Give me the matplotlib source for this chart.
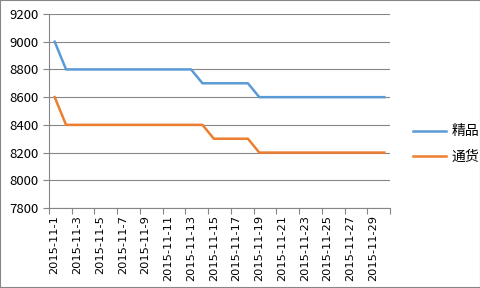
import matplotlib.pyplot as plt
import numpy as np

plt.rcParams['font.family'] = ['Noto Sans CJK SC', 'DejaVu Sans']

# daily prices, November 2015
dates = [f"2015-11-{d}" for d in range(1, 31)]
jingpin = [9000, 8800, 8800, 8800, 8800, 8800, 8800, 8800, 8800, 8800,
           8800, 8800, 8800, 8700, 8700, 8700, 8700, 8700, 8600, 8600,
           8600, 8600, 8600, 8600, 8600, 8600, 8600, 8600, 8600, 8600]
tonghuo = [8600, 8400, 8400, 8400, 8400, 8400, 8400, 8400, 8400, 8400,
           8400, 8400, 8400, 8400, 8300, 8300, 8300, 8300, 8200, 8200,
           8200, 8200, 8200, 8200, 8200, 8200, 8200, 8200, 8200, 8200]
series_names = ["精品", "通货"]

x = np.arange(len(dates))

fig = plt.figure(figsize=(4.81, 2.88), dpi=100)
ax = fig.add_axes([49 / 481, 1 - 208 / 288, (390 - 49) / 481, (208 - 14) / 288])

ax.plot(x, jingpin, color="#5B9BD5", linewidth=1.8, label=series_names[0])
ax.plot(x, tonghuo, color="#ED7D31", linewidth=1.8, label=series_names[1])

ax.set_xlim(-0.5, len(dates) - 0.5)
ax.set_ylim(7800, 9200)
ax.set_yticks(np.arange(7800, 9201, 200))
ax.grid(axis="y", color="#868686", linewidth=0.8)
ax.set_axisbelow(True)

# category axis: tick marks between categories, labels every 2nd day
ax.set_xticks(np.arange(-0.5, len(dates), 2))
ax.set_xticklabels([])
ax.set_xticks(x[::2], minor=True)
ax.set_xticklabels(dates[::2], minor=True, rotation=90, fontsize=8.2,
                   family=['DejaVu Sans'])
ax.tick_params(axis="x", which="major", length=4, color="#868686")
ax.tick_params(axis="x", which="minor", length=0, pad=5)
ax.tick_params(axis="y", length=4, color="#868686", labelsize=9.5)

for s in ["top", "right"]:
    ax.spines[s].set_visible(False)
for s in ["left", "bottom"]:
    ax.spines[s].set_color("#868686")
    ax.spines[s].set_linewidth(0.8)

ax.legend(loc="center left", bbox_to_anchor=(1.03, 0.33), frameon=False,
          fontsize=10, handlelength=2.4, labelspacing=0.8, handletextpad=0.4)

fig.patches.append(plt.Rectangle((0, 0), 1, 1, transform=fig.transFigure,
                                 fill=False, edgecolor="#868686", linewidth=1.5))

plt.savefig("out.png", dpi=100)
